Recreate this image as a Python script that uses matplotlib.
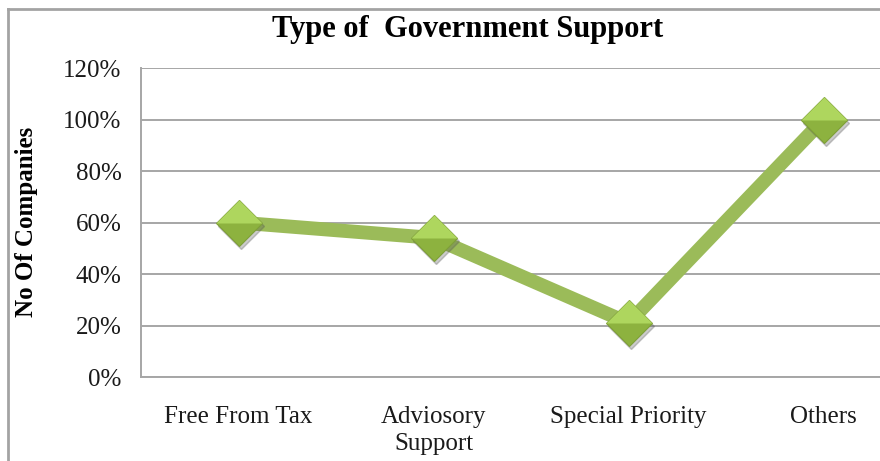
import matplotlib.pyplot as plt
import matplotlib.transforms as mtransforms
from matplotlib.lines import Line2D
from matplotlib.ticker import PercentFormatter

# dados
categorias = ['Free From Tax', 'Adviosory\nSupport', 'Special Priority', 'Others']
valores = [0.60, 0.54, 0.21, 1.00]
yticks = [0, 0.2, 0.4, 0.6, 0.8, 1.0, 1.2]

plt.rcParams['font.family'] = ['Liberation Serif', 'DejaVu Serif']

fig = plt.figure(figsize=(8.8, 4.61), dpi=100)
fig.patch.set_facecolor('white')

# moldura externa do grafico (cortada na direita e embaixo)
borda = '#a3a3a3'
fig.add_artist(Line2D([8 / 880, 8 / 880], [0, 1 - 9 / 461], color=borda, lw=2,
                      transform=fig.transFigure))
fig.add_artist(Line2D([8 / 880, 1], [1 - 9 / 461, 1 - 9 / 461], color=borda, lw=2,
                      transform=fig.transFigure))

# area do grafico passa da borda direita da imagem
ax = fig.add_axes([141 / 880, 1 - 377 / 461, 780 / 880, (377 - 68) / 461])
x = list(range(len(categorias)))

ax.set_xlim(-0.5, len(categorias) - 0.5)
ax.set_ylim(0, 1.2)
ax.set_yticks(yticks)
ax.yaxis.set_major_formatter(PercentFormatter(1.0, decimals=0))
ax.set_xticks(x)
ax.set_xticklabels(categorias, linespacing=1.3)
ax.tick_params(axis='both', length=0, labelsize=18, colors='#1a1a1a')
ax.tick_params(axis='y', pad=14)
ax.tick_params(axis='x', pad=21)

ax.grid(axis='y', color='#a6a6a6', lw=1.4)
ax.set_axisbelow(True)
for lado in ['top', 'right']:
    ax.spines[lado].set_visible(False)
for lado in ['left', 'bottom']:
    ax.spines[lado].set_color('#a6a6a6')
    ax.spines[lado].set_linewidth(1.4)

# linha grossa verde
ax.plot(x, valores, color='#9bbb59', lw=10, solid_capstyle='butt', zorder=3)

# sombra dos marcadores
sombra = mtransforms.offset_copy(ax.transData, fig=fig, x=2, y=-2.5, units='points')
ax.plot(x, valores, linestyle='none', marker='D', markersize=23, color='#555555',
        alpha=0.3, transform=sombra, zorder=4)

# marcadores em losango
ax.plot(x, valores, linestyle='none', marker='D', markersize=23,
        markerfacecolor='#8db23f', markeredgecolor='#7e9f38', markeredgewidth=0.8,
        zorder=5)
ax.plot(x, valores, linestyle='none', marker='D', markersize=23,
        markerfacecolor='#aed65e', markeredgecolor='none',
        fillstyle='top', markerfacecoloralt='none', zorder=6)

fig.text(468 / 880, 1 - 29 / 461, 'Type of  Government Support', ha='center',
         va='center', fontsize=22, fontweight='bold', color='black')
fig.text(26 / 880, 1 - 222 / 461, 'No Of Companies', ha='center', va='center',
         rotation=90, fontsize=18, fontweight='bold', color='black')

fig.savefig('out.png', dpi=100, facecolor='white')
